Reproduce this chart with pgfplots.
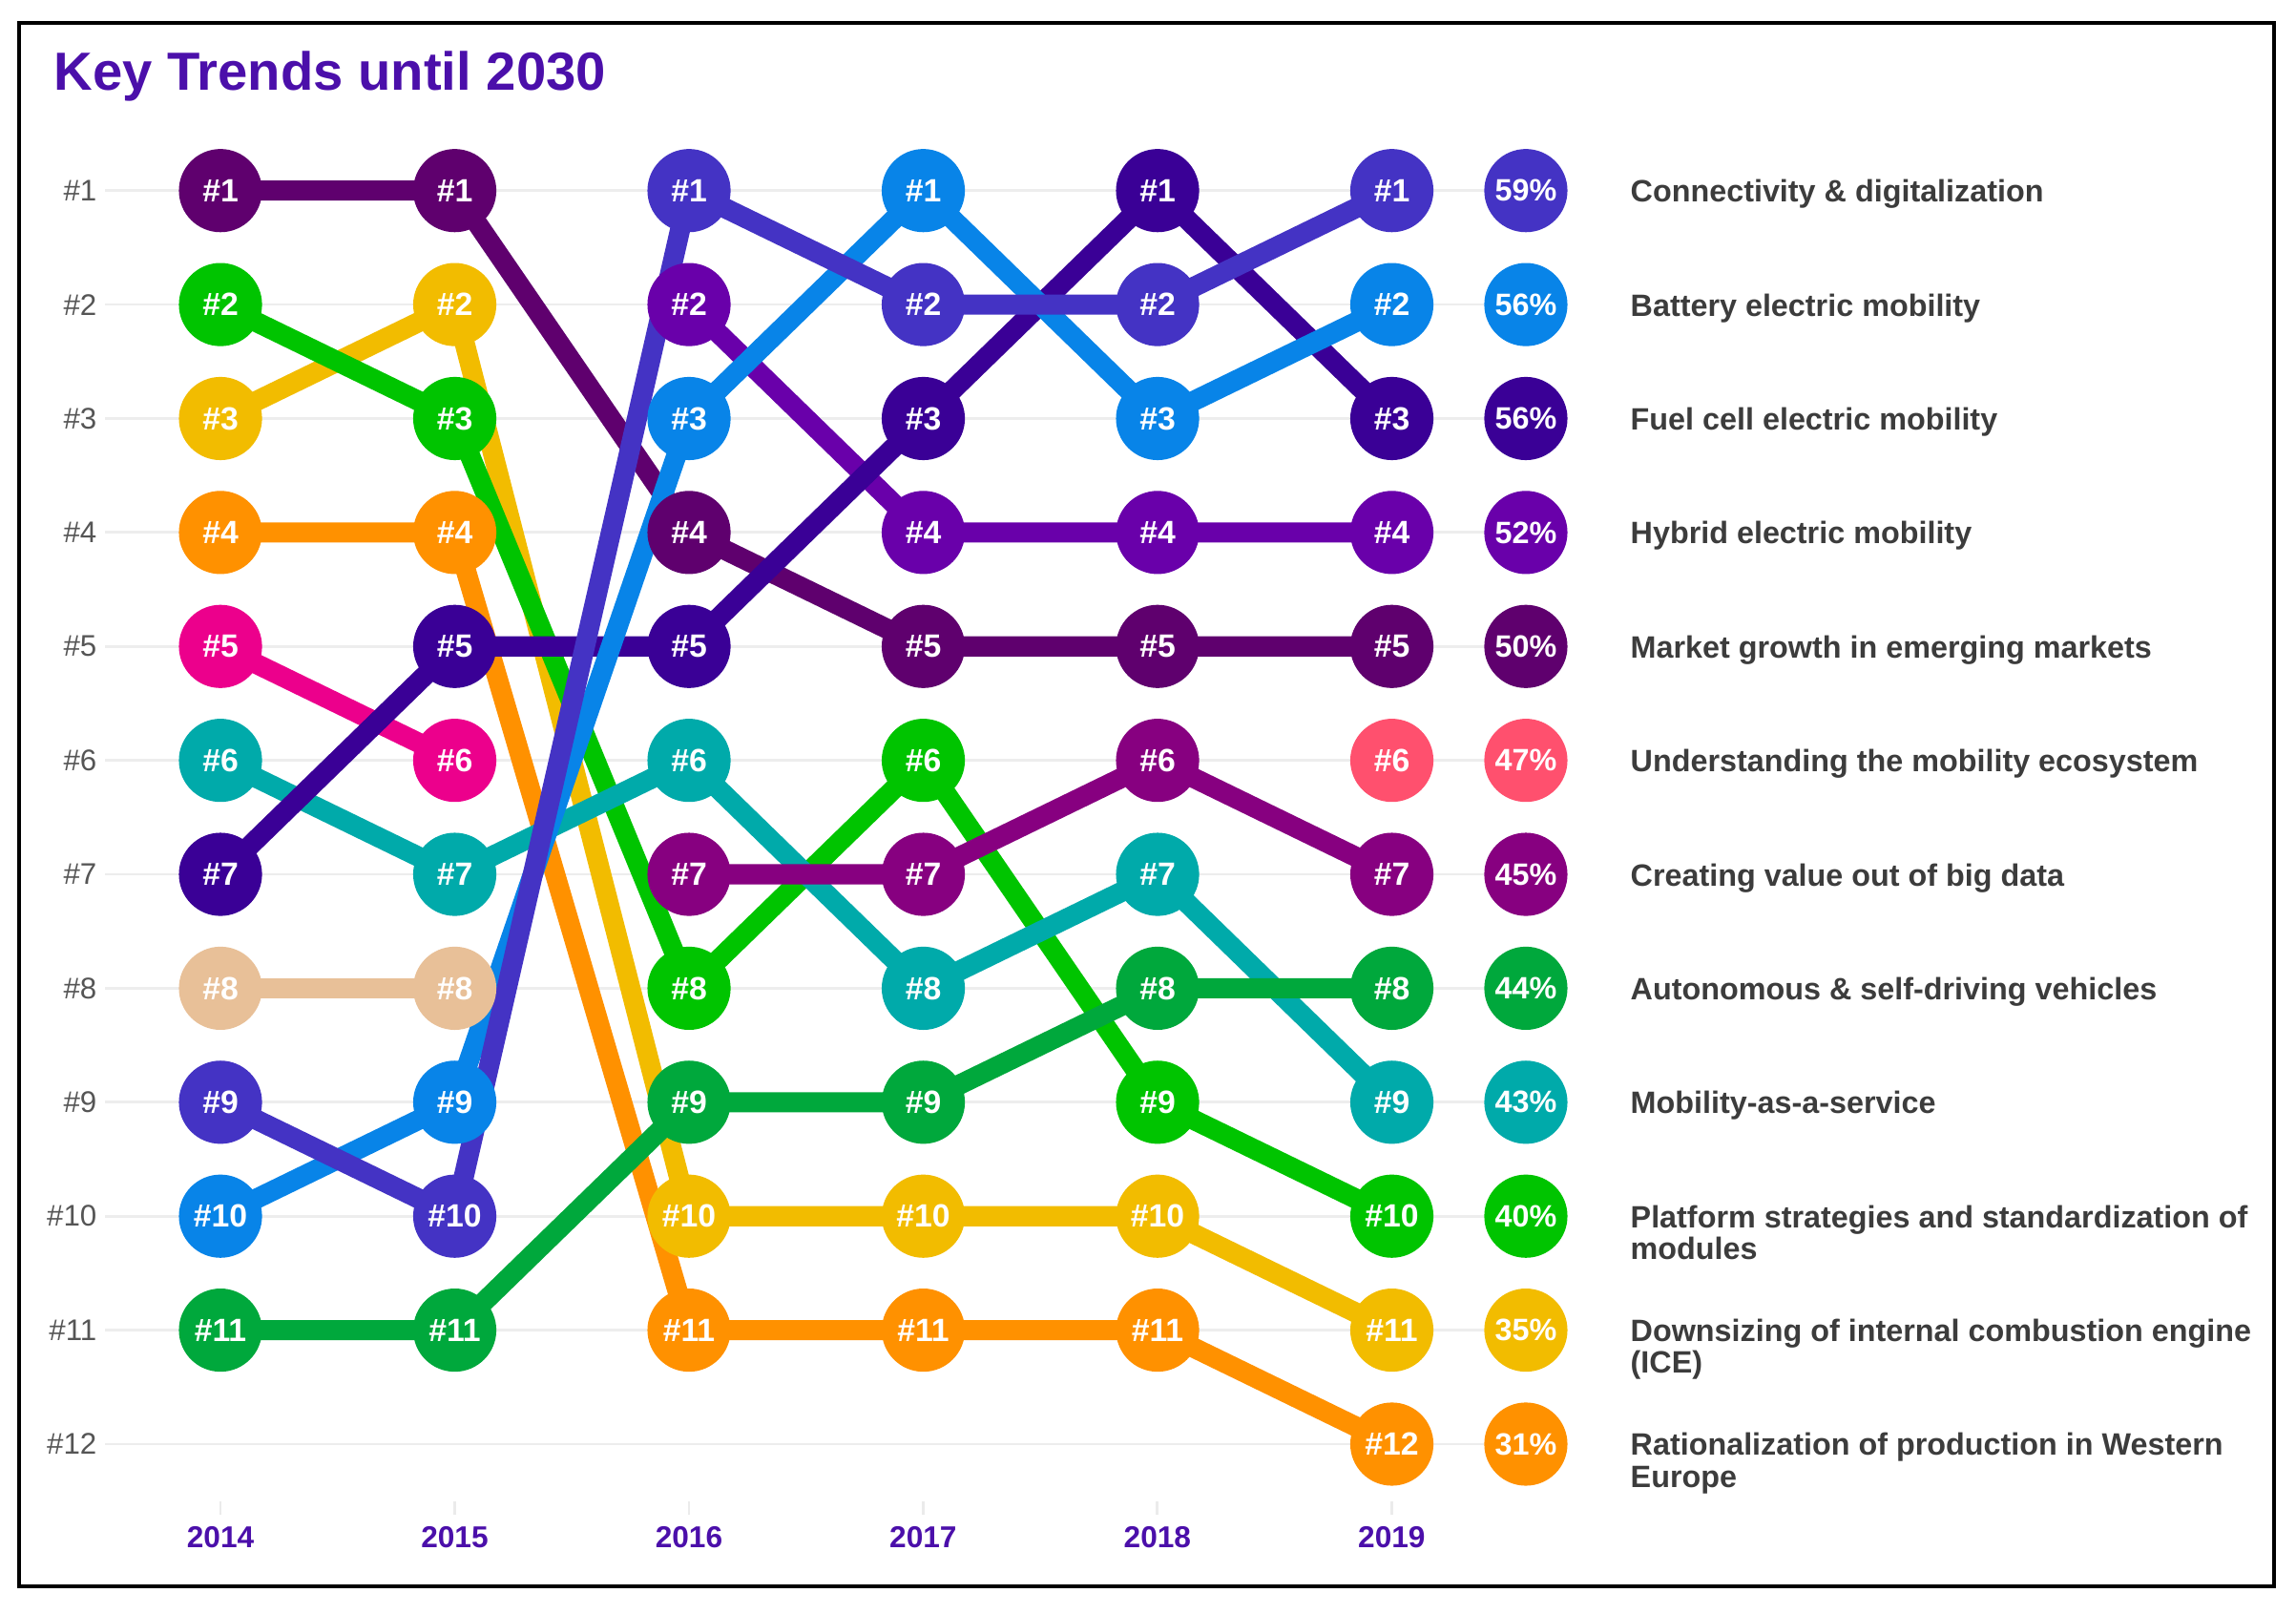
\documentclass[border=0pt]{standalone}
\usepackage{fontspec}
\setmainfont{Liberation Sans}
\usepackage{pgfplots}
\pgfplotsset{compat=1.18}

\definecolor{cMarket}{RGB}{95,0,110}
\definecolor{cConn}{RGB}{68,51,196}
\definecolor{cBattery}{RGB}{8,132,232}
\definecolor{cFuel}{RGB}{58,0,150}
\definecolor{cHybrid}{RGB}{105,0,170}
\definecolor{cUnder}{RGB}{255,80,110}
\definecolor{cMagenta}{RGB}{236,0,140}
\definecolor{cBigData}{RGB}{135,0,128}
\definecolor{cAuto}{RGB}{0,168,60}
\definecolor{cMaaS}{RGB}{0,170,170}
\definecolor{cPlatform}{RGB}{0,196,0}
\definecolor{cDown}{RGB}{242,188,0}
\definecolor{cRation}{RGB}{255,145,0}
\definecolor{cTan}{RGB}{232,192,152}
\definecolor{titlepurple}{RGB}{75,15,170}
\definecolor{labelgray}{RGB}{60,60,60}
\definecolor{ygray}{RGB}{85,85,85}

\newcommand{\circfont}{\bfseries\fontsize{9.6}{10}\selectfont}
\newcommand{\pctfont}{\bfseries\fontsize{9.2}{10}\selectfont}
\newcommand{\labfont}{\bfseries\fontsize{9.2}{9.4}\selectfont}

% circle marks: thin stroke in the fill colour, so the radius stays as set
\pgfplotsset{
  rankdot/.style={mark=*, mark size=12.2pt,
    mark options={solid, line width=0.4pt, draw=#1, fill=#1}},
}

% one rank line, its share circle and its label
% #1 colour, #2 coordinates, #3 rank in 2019, #4 share, #5 label
\newcommand{\trend}[5]{%
  \addplot[color=#1, line width=6pt, rankdot=#1,
    nodes near coords, point meta=explicit symbolic,
    every node near coord/.append style={anchor=center, text=white, font=\circfont}]
    coordinates {#2};
  \addplot[only marks, rankdot=#1,
    nodes near coords, point meta=explicit symbolic,
    every node near coord/.append style={anchor=center, text=white, font=\pctfont}]
    coordinates {(2019.572,#3) [#4\%]};
  \node[anchor=base west, inner sep=0pt, text=labelgray, font=\labfont, yshift=-0.12cm]
    at (axis cs:2020.016,#3) {\begin{tabular}[t]{@{}l@{}}#5\end{tabular}};
}

\begin{document}
\begin{tikzpicture}
\path (0,0) rectangle (24.06,16.91);
\draw[line width=1.1pt] (0.20,0.29) rectangle (23.83,16.67);
\node[anchor=base west, inner sep=0pt, text=titlepurple,
  font=\bfseries\fontsize{16}{19}\selectfont] at (0.56,15.96) {Key Trends until 2030};

\begin{axis}[
  at={(1.10cm,1.04cm)}, anchor=south west,
  width=14.45cm, height=14.47cm, scale only axis,
  xmin=2013.507, xmax=2019.393,
  ymin=0.5, ymax=12.62, y dir=reverse,
  clip=false,
  axis line style={draw=none},
  ytick={1,...,12},
  yticklabels={\#1,\#2,\#3,\#4,\#5,\#6,\#7,\#8,\#9,\#10,\#11,\#12},
  ytick style={draw=none},
  ymajorgrids,
  major grid style={black!7, line width=0.8pt},
  xtick={2014,...,2019},
  xticklabels={2014,2015,2016,2017,2018,2019},
  minor x tick num=3,
  xtick pos=left,
  tick align=inside,
  major tick length=0.14cm, minor tick length=0.10cm,
  xtick style={black!8, line width=0.8pt},
  xticklabel style={font=\bfseries\fontsize{9}{10}\selectfont, text=titlepurple,
    anchor=base, inner sep=0pt, yshift=-0.34cm},
  yticklabel style={font=\fontsize{8.9}{10}\selectfont, text=ygray,
    anchor=east, inner sep=0pt, xshift=-0.08cm},
]

% series that stop after 2015
\addplot[color=cMagenta, line width=6pt, rankdot=cMagenta,
  nodes near coords, point meta=explicit symbolic,
  every node near coord/.append style={anchor=center, text=white, font=\circfont}]
  coordinates {(2014,5) [\#5] (2015,6) [\#6]};
\addplot[color=cTan, line width=6pt, rankdot=cTan,
  nodes near coords, point meta=explicit symbolic,
  every node near coord/.append style={anchor=center, text=white, font=\circfont}]
  coordinates {(2014,8) [\#8] (2015,8) [\#8]};

\trend{cRation}{(2014,4) [\#4] (2015,4) [\#4] (2016,11) [\#11] (2017,11) [\#11] (2018,11) [\#11] (2019,12) [\#12]}{12}{31}{Rationalization of production in Western\\Europe}
\trend{cDown}{(2014,3) [\#3] (2015,2) [\#2] (2016,10) [\#10] (2017,10) [\#10] (2018,10) [\#10] (2019,11) [\#11]}{11}{35}{Downsizing of internal combustion engine\\(ICE)}
\trend{cPlatform}{(2014,2) [\#2] (2015,3) [\#3] (2016,8) [\#8] (2017,6) [\#6] (2018,9) [\#9] (2019,10) [\#10]}{10}{40}{Platform strategies and standardization of\\modules}
\trend{cMaaS}{(2014,6) [\#6] (2015,7) [\#7] (2016,6) [\#6] (2017,8) [\#8] (2018,7) [\#7] (2019,9) [\#9]}{9}{43}{Mobility-as-a-service}
\trend{cAuto}{(2014,11) [\#11] (2015,11) [\#11] (2016,9) [\#9] (2017,9) [\#9] (2018,8) [\#8] (2019,8) [\#8]}{8}{44}{Autonomous \& self-driving vehicles}
\trend{cBigData}{(2016,7) [\#7] (2017,7) [\#7] (2018,6) [\#6] (2019,7) [\#7]}{7}{45}{Creating value out of big data}
\trend{cUnder}{(2019,6) [\#6]}{6}{47}{Understanding the mobility ecosystem}
\trend{cMarket}{(2014,1) [\#1] (2015,1) [\#1] (2016,4) [\#4] (2017,5) [\#5] (2018,5) [\#5] (2019,5) [\#5]}{5}{50}{Market growth in emerging markets}
\trend{cHybrid}{(2016,2) [\#2] (2017,4) [\#4] (2018,4) [\#4] (2019,4) [\#4]}{4}{52}{Hybrid electric mobility}
\trend{cFuel}{(2014,7) [\#7] (2015,5) [\#5] (2016,5) [\#5] (2017,3) [\#3] (2018,1) [\#1] (2019,3) [\#3]}{3}{56}{Fuel cell electric mobility}
\trend{cBattery}{(2014,10) [\#10] (2015,9) [\#9] (2016,3) [\#3] (2017,1) [\#1] (2018,3) [\#3] (2019,2) [\#2]}{2}{56}{Battery electric mobility}
\trend{cConn}{(2014,9) [\#9] (2015,10) [\#10] (2016,1) [\#1] (2017,2) [\#2] (2018,2) [\#2] (2019,1) [\#1]}{1}{59}{Connectivity \& digitalization}

\end{axis}
\end{tikzpicture}
\end{document}
